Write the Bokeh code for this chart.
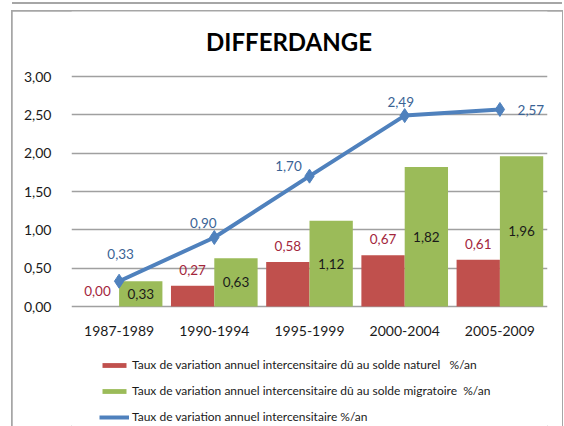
from bokeh.plotting import figure
from bokeh.models import (Range1d, FixedTicker, ColumnDataSource, Legend, LegendItem, Label)
from bokeh.core.properties import value
from bokeh.embed import file_html
from bokeh.resources import INLINE

# ---- data ----
periods = ["1987-1989", "1990-1994", "1995-1999", "2000-2004", "2005-2009"]
natural = [0.00, 0.27, 0.58, 0.67, 0.61]
migration = [0.33, 0.63, 1.12, 1.82, 1.96]
total = [0.33, 0.90, 1.70, 2.49, 2.57]
y_ticks = [0.0, 0.5, 1.0, 1.5, 2.0, 2.5, 3.0]
title_text = "DIFFERDANGE"
legend_labels = [
    "Taux de variation annuel intercensitaire dû au solde naturel   %/an",
    "Taux de variation annuel intercensitaire dû au solde migratoire  %/an",
    "Taux de variation annuel intercensitaire %/an",
]

# ---- styles ----
FONT = "Lato"
RED = "#C0504D"
GREEN = "#9BBB59"
BLUE = "#4F81BD"
RED_TXT = "#A3263C"
BLUE_TXT = "#3A6395"
DARK = "#1a1a1a"
BW = 0.455
blue_dx = [1.5, -11, -21, -4, 31]
blue_dy = [-27, -15, -10, -14, 1]

PLOT_H = 230.0          # pixel height of the 0..3 value band
ABOVE_PX = 65.0         # pixels above the top gridline (title area)
BELOW_PX = 120.0        # pixels below the zero line (category labels + legend)
TITLE_PX = 35.0         # title centre above the top gridline
Y_TOP = max(y_ticks)
px_per_unit = PLOT_H / Y_TOP


def fr(v):
    return f"{v:.2f}".replace(".", ",")


centers = [i + 0.5 for i in range(len(periods))]

p = figure(width=550, height=415,
           x_range=Range1d(0, len(periods)),
           y_range=Range1d(-BELOW_PX / px_per_unit, Y_TOP + ABOVE_PX / px_per_unit),
           x_axis_location=None,
           output_backend="svg", toolbar_location=None,
           min_border_left=59, min_border_right=15, min_border_top=0, min_border_bottom=0,
           outline_line_color=None, background_fill_color="white", border_fill_color="white",
           margin=(11, 0, 0, 12),
           styles={"outline": "2px solid #a6a6a6", "outline-offset": "-1px",
                   "box-shadow": "0 -7px 0 0 #ffffff, 0 -9px 0 0 #a6a6a6"})

# title
p.add_layout(Label(x=2.285, y=Y_TOP + TITLE_PX / px_per_unit, text=title_text,
                   text_align="center", text_baseline="middle",
                   text_font=FONT, text_font_size="24px", text_font_style="bold",
                   text_color="black"))

# grid
p.xgrid.grid_line_color = None
p.ygrid.grid_line_color = "#a0a0a0"
p.ygrid.grid_line_width = 1.4
p.ygrid.ticker = FixedTicker(ticks=y_ticks)

# y axis
p.yaxis.ticker = FixedTicker(ticks=y_ticks)
p.yaxis.major_label_overrides = {t: fr(t) for t in y_ticks}
ax = p.yaxis[0]
ax.axis_line_color = None
ax.major_tick_line_color = None
ax.minor_tick_line_color = None
ax.major_label_text_font = FONT
ax.major_label_text_font_size = "14px"
ax.major_label_text_color = DARK
ax.major_label_standoff = 14

# bars / line
src = ColumnDataSource(dict(
    xr=[c - BW / 2 for c in centers], xg=[c + BW / 2 for c in centers], xc=centers,
    zero=[0.0] * len(periods), period=periods,
    nat=natural, mig=migration, tot=total, mig_half=[m / 2 for m in migration],
    nat_t=[fr(v) for v in natural], mig_t=[fr(v) for v in migration], tot_t=[fr(v) for v in total],
    bdx=blue_dx, bdy=blue_dy,
))
r_red = p.vbar(x="xr", top="nat", width=BW, source=src, fill_color=RED, line_color=None)
r_green = p.vbar(x="xg", top="mig", width=BW, source=src, fill_color=GREEN, line_color=None)
r_line = p.line(x="xc", y="tot", source=src, line_color=BLUE, line_width=4)
r_pts = p.scatter(x="xc", y="tot", source=src, marker="diamond", size=14,
                  fill_color=BLUE, line_color=BLUE)

# category labels (x axis)
p.text(x="xc", y="zero", text="period", source=src, text_align="center", text_baseline="middle",
       y_offset=24, text_font=value(FONT), text_font_size="14px", text_color=DARK)

# data labels
p.text(x="xr", y="nat", text="nat_t", source=src, text_align="center", text_baseline="middle",
       y_offset=-16, text_font=value(FONT), text_font_size="13.5px", text_color=RED_TXT)
p.text(x="xg", y="mig_half", text="mig_t", source=src, text_align="center", text_baseline="middle",
       text_font=value(FONT), text_font_size="13.5px", text_color=DARK)
p.text(x="xc", y="tot", text="tot_t", source=src, text_align="center", text_baseline="middle",
       x_offset="bdx", y_offset="bdy", text_font=value(FONT), text_font_size="13.5px",
       text_color=BLUE_TXT)

# legend
legend = Legend(items=[
    LegendItem(label=legend_labels[0], renderers=[r_red]),
    LegendItem(label=legend_labels[1], renderers=[r_green]),
    LegendItem(label=legend_labels[2], renderers=[r_line, r_pts]),
], location=(28, 2), orientation="vertical", glyph_width=30, glyph_height=6,
    label_height=14, label_standoff=3, spacing=11, padding=0, margin=0,
    border_line_color=None, background_fill_alpha=0,
    label_text_font=FONT, label_text_font_size="12px", label_text_color=DARK)
p.add_layout(legend)

open("out.html", "w").write(file_html(p, INLINE))
